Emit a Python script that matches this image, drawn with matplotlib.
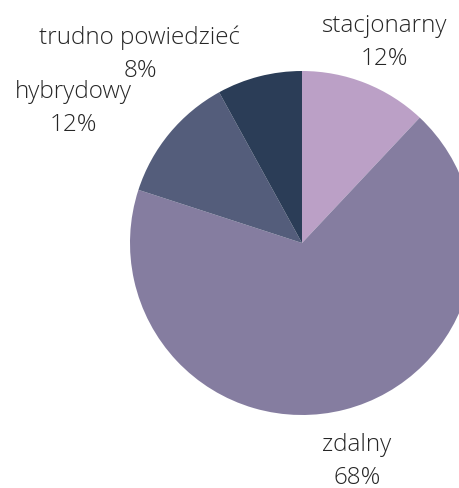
import matplotlib
matplotlib.use('Agg')
import matplotlib.pyplot as plt

# data
labels = ['stacjonarny', 'zdalny', 'hybrydowy', 'trudno powiedzieć']
values = [12, 68, 12, 8]
colors = ['#BBA0C6', '#857DA0', '#545D7B', '#2B3D57']

# label anchor points (data coords, pie radius = 1)
label_pos = [(0.477, 1.173), (0.320, -1.262), (-1.331, 0.785), (-0.942, 1.106)]

plt.rcParams['font.family'] = ['Open Sans', 'DejaVu Sans']

fig = plt.figure(figsize=(4.60, 4.89), dpi=100)
ax = fig.add_axes([130/460, 73/489, 344/460, 344/489])

ax.pie(values, colors=colors, startangle=90, counterclock=False,
       radius=1, wedgeprops=dict(linewidth=0))
ax.set_xlim(-1, 1)
ax.set_ylim(-1, 1)
ax.set_aspect('equal')
ax.axis('off')

for lab, val, (x, y) in zip(labels, values, label_pos):
  ax.text(x, y, '{}\n{}%'.format(lab, val), ha='center', va='center',
          fontsize=17.5, fontweight='light', color='#262626', linespacing=1.5)

fig.savefig('out.png', dpi=100)
